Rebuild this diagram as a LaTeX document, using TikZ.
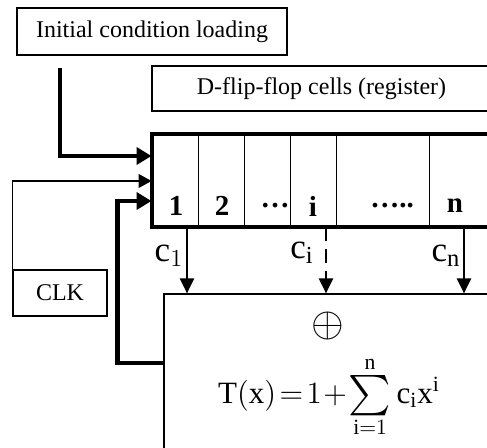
\documentclass[tikz,border=0pt]{standalone}
\usepackage{fix-cm}
\usepackage{amsmath}
\usepackage{fontspec}
\setmainfont{Liberation Serif}
\usetikzlibrary{arrows.meta, calc}
\newcommand{\bigsum}{\mathop{\vcenter{\hbox{\scalebox{1.4}{$\sum$}}}}\limits}

\begin{document}
\begin{tikzpicture}[
  x=0.5pt, y=-0.5pt,
  font=\fontsize{12}{14}\selectfont,
  box/.style={draw, line width=0.6pt, inner sep=0pt},
  cell/.style={draw, line width=0.5pt, minimum height=46pt, inner sep=0pt},
  num/.style={font=\fontsize{14.5}{17}\selectfont\bfseries},
  big/.style={font=\fontsize{17.5}{21}\selectfont},
  bus/.style={-{Triangle[length=7.5pt, width=8.5pt]}, line width=2.4pt},
  wire/.style={-{Triangle[length=6.5pt, width=7pt]}, line width=0.6pt},
  tap/.style={-{Triangle[length=7.5pt, width=7pt]}, line width=1.1pt},
]
\useasboundingbox (0,0) rectangle (487,448);
\node[box, line width=0.9pt, minimum width=135pt, minimum height=23.5pt] (init) at (152,31.5)
  {Initial condition loading};
\node[box, minimum width=169.5pt, minimum height=22.5pt] (dff) at (321.5,88.5)
  {D-flip-flop cells (register)};
\foreach \l/\r/\t/\tx [count=\k] in {152/198/1/176, 198/244/2/222, 244/290/…/275,
    290/336/i/313, 336/429/…../392, 429/495/n/455} {
  \node[cell, minimum width={(\r-\l)*0.5pt}] (r\k) at ({(\l+\r)/2},181) {};
  \node[num] (n\k) at (\tx,206) {\t};
}
\draw[line width=2pt] (r1.north west) rectangle (r6.south east);
\node[box, minimum width=47pt, minimum height=23pt] (clk) at (60,293) {CLK};
\node[box, minimum width=168pt, minimum height=83pt] (sum) at (332,377) {};
\node[font=\fontsize{21}{24}\selectfont] (xor) at (328,326) {$\oplus$};
\node[font=\fontsize{15.5}{18}\selectfont, inner sep=0pt] (poly) at (329,397)
  {$\thickmuskip=2mu\medmuskip=1mu\mathrm{T(x)}=1+\bigsum_{\mathrm{i}=1}^{\mathrm{n}}\mathrm{c_i x^i}$};
\node[big] (lc1) at (169,256) {$\mathrm{c}_1$};
\node[big] (lci) at (302,253) {$\mathrm{c}_\mathrm{i}$};
\node[big] (lcn) at (446,256) {$\mathrm{c}_\mathrm{n}$};
\draw[bus] ([xshift=-46pt, yshift=-6pt]init.south) |- ([yshift=12.5pt]r1.west);
\draw[wire] (clk.north west) |- (r1.west);
\draw[bus] ([yshift=7pt]sum.west) -- ++(-23pt,0) |- ([yshift=-10pt]r1.west);
\draw[tap] ([xshift=6pt]r1.south) -- ([xshift=6pt]r1.south |- sum.north);
\draw[tap, dash pattern=on 7pt off 4pt] ([xshift=6.5pt]r4.south) -- ([xshift=6.5pt]r4.south |- sum.north);
\draw[tap] ([xshift=1pt]r6.south) -- ([xshift=1pt]r6.south |- sum.north);
\end{tikzpicture}
\end{document}
